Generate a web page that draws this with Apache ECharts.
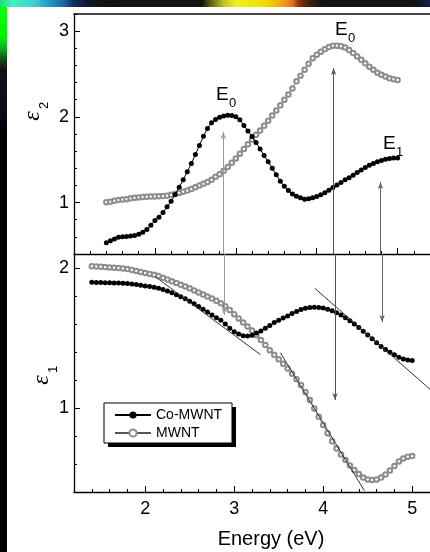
<!DOCTYPE html>
<html>
<head>
<meta charset="utf-8">
<script src="https://cdn.jsdelivr.net/npm/echarts@6/dist/echarts.min.js"></script>
<style>
  html, body { margin: 0; padding: 0; background: #fff; }
  #chart { width: 430px; height: 552px; }
</style>
</head>
<body>
<div id="chart"></div>
<script>
// Photon energy (eV) of each measured point
const energy = [
  1.40, 1.45, 1.50, 1.55, 1.60, 1.65, 1.70, 1.75, 1.80, 1.85,
  1.90, 1.95, 2.00, 2.05, 2.10, 2.15, 2.20, 2.25, 2.30, 2.35,
  2.40, 2.45, 2.50, 2.55, 2.60, 2.65, 2.70, 2.75, 2.80, 2.85,
  2.90, 2.95, 3.00, 3.05, 3.10, 3.15, 3.20, 3.25, 3.30, 3.35,
  3.40, 3.45, 3.50, 3.55, 3.60, 3.65, 3.70, 3.75, 3.80, 3.85,
  3.90, 3.95, 4.00, 4.05, 4.10, 4.15, 4.20, 4.25, 4.30, 4.35,
  4.40, 4.45, 4.50, 4.55, 4.60, 4.65, 4.70, 4.75, 4.80, 4.85,
  4.90, 4.95, 5.00
];

// Imaginary part of the dielectric function, eps2
const eps2Co = [
  0.53, 0.555, 0.575, 0.595, 0.60, 0.605, 0.61, 0.615, 0.63, 0.655,
  0.685, 0.735, 0.79, 0.83, 0.885, 0.95, 1.015, 1.095, 1.18, 1.265,
  1.36, 1.455, 1.56, 1.665, 1.775, 1.865, 1.93, 1.97, 1.995, 2.01,
  2.02, 2.015, 2.00, 1.965, 1.90, 1.835, 1.77, 1.70, 1.625, 1.55,
  1.475, 1.40, 1.325, 1.25, 1.19, 1.14, 1.10, 1.075, 1.055, 1.04,
  1.045, 1.055, 1.07, 1.09, 1.115, 1.145, 1.175, 1.205, 1.235, 1.265,
  1.29, 1.32, 1.35, 1.38, 1.41, 1.435, 1.455, 1.475, 1.49, 1.505,
  1.515, 1.52, 1.52
];
const eps2Mwnt = [
  1.005, 1.01, 1.02, 1.03, 1.035, 1.04, 1.05, 1.055, 1.06, 1.065,
  1.068, 1.07, 1.072, 1.074, 1.076, 1.08, 1.09, 1.10, 1.113, 1.127,
  1.14, 1.158, 1.178, 1.20, 1.22, 1.24, 1.265, 1.30, 1.33, 1.37,
  1.415, 1.465, 1.515, 1.57, 1.625, 1.68, 1.735, 1.79, 1.84, 1.895,
  1.955, 2.015, 2.075, 2.135, 2.20, 2.26, 2.33, 2.415, 2.48, 2.55,
  2.62, 2.685, 2.725, 2.76, 2.79, 2.815, 2.83, 2.83, 2.825, 2.81,
  2.78, 2.745, 2.705, 2.665, 2.625, 2.585, 2.55, 2.515, 2.49, 2.47,
  2.45, 2.44, 2.43
];

// Real part of the dielectric function, eps1
const eps1Co = [
  1.898, 1.897, 1.896, 1.895, 1.894, 1.893, 1.892, 1.891, 1.889, 1.886,
  1.882, 1.877, 1.872, 1.867, 1.862, 1.855, 1.846, 1.835, 1.823, 1.809,
  1.794, 1.78, 1.763, 1.745, 1.725, 1.705, 1.685, 1.665, 1.645, 1.627,
  1.60, 1.57, 1.545, 1.528, 1.516, 1.514, 1.52, 1.535, 1.55, 1.57,
  1.59, 1.61, 1.626, 1.642, 1.658, 1.675, 1.69, 1.703, 1.712, 1.718,
  1.72, 1.718, 1.714, 1.706, 1.695, 1.681, 1.665, 1.645, 1.623, 1.60,
  1.575, 1.548, 1.521, 1.494, 1.466, 1.44, 1.418, 1.398, 1.38, 1.362,
  1.35, 1.343, 1.339
];
const eps1Mwnt = [
  2.013, 2.011, 2.009, 2.007, 2.004, 2.002, 2.00, 1.997, 1.992, 1.986,
  1.979, 1.972, 1.965, 1.958, 1.951, 1.943, 1.93, 1.918, 1.905, 1.893,
  1.88, 1.868, 1.855, 1.84, 1.825, 1.81, 1.796, 1.782, 1.766, 1.748,
  1.727, 1.70, 1.67, 1.64, 1.61, 1.582, 1.553, 1.52, 1.485, 1.45,
  1.413, 1.38, 1.348, 1.316, 1.282, 1.245, 1.205, 1.165, 1.115, 1.057,
  0.997, 0.937, 0.878, 0.82, 0.762, 0.71, 0.668, 0.628, 0.59, 0.558,
  0.528, 0.503, 0.49, 0.486, 0.49, 0.503, 0.525, 0.553, 0.585, 0.618,
  0.64, 0.652, 0.657
];

// Axis tick labels
const xTickLabels = [2, 3, 4, 5];
const eps2TickLabels = [1, 2, 3];
const eps1TickLabels = [1, 2];

// Transition markers: vertical arrows through both panels
const arrowEps2X = [2.846, 4.209, 4.788];
const arrowEps2Tip = [1.823, 2.57, 1.24];
const arrowEps1X = [2.887, 4.133, 4.662];
const arrowEps1Tip = [1.664, 1.057, 1.614];
const arrowColors = ['#9a9a9a', '#555', '#666'];

// Tangent guide lines on eps1
const tangents = [
  [[2.112, 1.938], [3.295, 1.381]],
  [[3.519, 1.395], [4.463, 0.409]],
  [[3.905, 1.855], [5.2, 1.134]]
];

const FONT = 'Liberation Sans, Arial, Helvetica, sans-serif';
const pairs = (ys) => energy.map((e, i) => [e, ys[i]]);

const chart = echarts.init(document.getElementById('chart'), null, { renderer: 'canvas' });

const minorX = (grid, min, max) => ({
  gridIndex: grid, type: 'value', min: min, max: max, interval: 0.2, position: 'bottom',
  axisLine: { show: true, onZero: false, lineStyle: { color: '#000', width: 1.3 } },
  axisTick: { show: true, inside: true, length: 3, lineStyle: { color: '#000', width: 1 } },
  axisLabel: { show: false }, splitLine: { show: false }
});
const majorX = (grid, min, max, labels) => ({
  gridIndex: grid, type: 'value', min: min, max: max, position: 'bottom',
  axisLine: { show: false, onZero: false },
  axisTick: { show: true, inside: true, length: 6, customValues: xTickLabels, lineStyle: { color: '#000', width: 1 } },
  axisLabel: labels ? { show: true, customValues: xTickLabels, margin: 8, fontSize: 18, color: '#000', fontFamily: FONT } : { show: false },
  splitLine: { show: false }
});
const minorY = (grid, min, max) => ({
  gridIndex: grid, type: 'value', min: min, max: max, interval: 0.2, position: 'left',
  axisLine: { show: true, onZero: false, lineStyle: { color: '#000', width: 1.3 } },
  axisTick: { show: true, inside: true, length: 3, lineStyle: { color: '#000', width: 1 } },
  axisLabel: { show: false }, splitLine: { show: false }
});
const majorY = (grid, min, max, ticks) => ({
  gridIndex: grid, type: 'value', min: min, max: max, position: 'left',
  axisLine: { show: false, onZero: false },
  axisTick: { show: true, inside: true, length: 6, customValues: ticks, lineStyle: { color: '#000', width: 1 } },
  axisLabel: { show: true, customValues: ticks, margin: 5, fontSize: 18, color: '#000', fontFamily: FONT },
  splitLine: { show: false }
});

const arrowLines = (xs, from, tips) => xs.map((x, i) => [
  { coord: [x, from], lineStyle: { color: arrowColors[i] }, itemStyle: { color: arrowColors[i] } },
  { coord: [x, tips[i]] }
]);

const arrowMark = (xs, from, tips) => ({
  silent: true,
  symbol: ['none', 'arrow'],
  symbolSize: [4, 7],
  label: { show: false },
  emphasis: { disabled: true },
  lineStyle: { type: 'solid', width: 1, color: '#666' },
  data: arrowLines(xs, from, tips)
});

const tangentMark = {
  silent: true,
  symbol: ['none', 'none'],
  label: { show: false },
  emphasis: { disabled: true },
  lineStyle: { type: 'solid', width: 1, color: '#333' },
  data: tangents.map(t => [{ coord: t[0] }, { coord: t[1] }])
};

const coStyle = {
  type: 'line', name: 'Co-MWNT', symbol: 'circle', symbolSize: 5, showAllSymbol: true,
  itemStyle: { color: '#000' }, lineStyle: { color: '#000', width: 1 }, z: 4
};
const mwntStyle = {
  type: 'line', name: 'MWNT', symbol: 'emptyCircle', symbolSize: 4.5, showAllSymbol: true,
  itemStyle: { color: '#8c8c8c', borderWidth: 0.9 }, lineStyle: { color: '#555', width: 0.8 }, z: 3
};

// Axis title with a subscript, turned to read bottom-to-top
const epsTitle = (x, y, sub) => ({
  type: 'group', x: x, y: y, rotation: Math.PI / 2,
  children: [
    { type: 'text', x: 0, y: 0, style: { text: 'ε', font: 'italic 24px Liberation Serif, Times New Roman, serif', fill: '#000', align: 'center', verticalAlign: 'middle' } },
    { type: 'text', x: 7, y: 5, style: { text: sub, font: '13px ' + FONT, fill: '#000', align: 'left', verticalAlign: 'top' } }
  ]
});

// Peak label: capital E with subscript
const peakLabel = (x, y, sub) => ({
  type: 'group', x: x, y: y,
  children: [
    { type: 'text', x: 0, y: 0, style: { text: 'E', font: '19px ' + FONT, fill: '#000', align: 'left', verticalAlign: 'top' } },
    { type: 'text', x: 13, y: 12, style: { text: sub, font: '13px ' + FONT, fill: '#000', align: 'left', verticalAlign: 'top' } }
  ]
});

const option = {
  animation: false,
  backgroundColor: '#fff',
  grid: [
    { left: 74, top: 14, width: 363, height: 240 },
    { left: 74, top: 254, width: 363, height: 238 }
  ],
  xAxis: [
    minorX(0, 1.0, 5.4),
    majorX(0, 1.0, 5.4, false),
    { gridIndex: 0, type: 'value', min: 1.0, max: 5.4, position: 'top',
      axisLine: { show: true, onZero: false, lineStyle: { color: '#444', width: 2 } },
      axisTick: { show: false }, axisLabel: { show: false }, splitLine: { show: false } },
    minorX(1, 1.2, 5.2),
    majorX(1, 1.2, 5.2, true)
  ],
  yAxis: [
    minorY(0, 0.4, 3.2),
    majorY(0, 0.4, 3.2, eps2TickLabels),
    minorY(1, 0.4, 2.1),
    majorY(1, 0.4, 2.1, eps1TickLabels)
  ],
  legend: {
    data: ['Co-MWNT', 'MWNT'],
    orient: 'vertical',
    left: 104, top: 403,
    padding: [5, 11, 5, 10],
    itemGap: 4,
    itemWidth: 36, itemHeight: 9,
    selectedMode: false,
    textStyle: { fontSize: 14, color: '#000', fontFamily: FONT }
  },
  series: [
    Object.assign({}, mwntStyle, { xAxisIndex: 0, yAxisIndex: 0, data: pairs(eps2Mwnt) }),
    Object.assign({}, coStyle, { xAxisIndex: 0, yAxisIndex: 0, data: pairs(eps2Co),
      markLine: arrowMark(arrowEps2X, 0.4, arrowEps2Tip) }),
    Object.assign({}, mwntStyle, { xAxisIndex: 3, yAxisIndex: 2, data: pairs(eps1Mwnt),
      markLine: tangentMark }),
    Object.assign({}, coStyle, { xAxisIndex: 3, yAxisIndex: 2, data: pairs(eps1Co),
      markLine: arrowMark(arrowEps1X, 2.1, arrowEps1Tip) })
  ],
  graphic: [
    // colour strips along the top and left edges
    { type: 'rect', shape: { x: 0, y: 0, width: 430, height: 7 }, silent: true,
      style: { fill: new echarts.graphic.LinearGradient(0, 0, 1, 0, [
        { offset: 0.00, color: '#20e070' }, { offset: 0.03, color: '#40f0c0' },
        { offset: 0.08, color: '#40d0d0' }, { offset: 0.12, color: '#2090c0' },
        { offset: 0.15, color: '#2060a0' }, { offset: 0.17, color: '#103060' },
        { offset: 0.20, color: '#101838' }, { offset: 0.24, color: '#101010' },
        { offset: 0.47, color: '#141410' }, { offset: 0.49, color: '#606018' },
        { offset: 0.52, color: '#c0c020' }, { offset: 0.55, color: '#f0f020' },
        { offset: 0.61, color: '#f0e000' }, { offset: 0.64, color: '#f0c000' },
        { offset: 0.665, color: '#f09020' }, { offset: 0.68, color: '#e07020' },
        { offset: 0.695, color: '#903010' }, { offset: 0.72, color: '#402010' },
        { offset: 0.75, color: '#0c140c' }, { offset: 0.96, color: '#0c140c' },
        { offset: 1.00, color: '#102050' }
      ]) } },
    { type: 'rect', shape: { x: 0, y: 7, width: 7, height: 545 }, silent: true,
      style: { fill: new echarts.graphic.LinearGradient(0, 0, 0, 1, [
        { offset: 0.00, color: '#10ff10' }, { offset: 0.055, color: '#00f000' },
        { offset: 0.075, color: '#10b020' }, { offset: 0.095, color: '#105010' },
        { offset: 0.115, color: '#181018' }, { offset: 0.19, color: '#100818' },
        { offset: 0.24, color: '#000' }, { offset: 1.00, color: '#000' }
      ]) } },
    // legend frame with its drop shadow
    { type: 'rect', shape: { x: 108, y: 407, width: 128, height: 40 }, silent: true, z: 1,
      style: { fill: '#000' } },
    { type: 'rect', shape: { x: 104, y: 403, width: 128, height: 40 }, silent: true, z: 2,
      style: { fill: '#fff', stroke: '#000', lineWidth: 1 } },
    epsTitle(33, 116, '2'),
    epsTitle(42, 380, '1'),
    peakLabel(216, 85, '0'),
    peakLabel(335, 20, '0'),
    peakLabel(383, 134, '1'),
    { type: 'text', x: 271, y: 529,
      style: { text: 'Energy (eV)', font: '20px ' + FONT, fill: '#000', align: 'center', verticalAlign: 'top' } }
  ]
};

chart.setOption(option);
</script>
</body>
</html>
